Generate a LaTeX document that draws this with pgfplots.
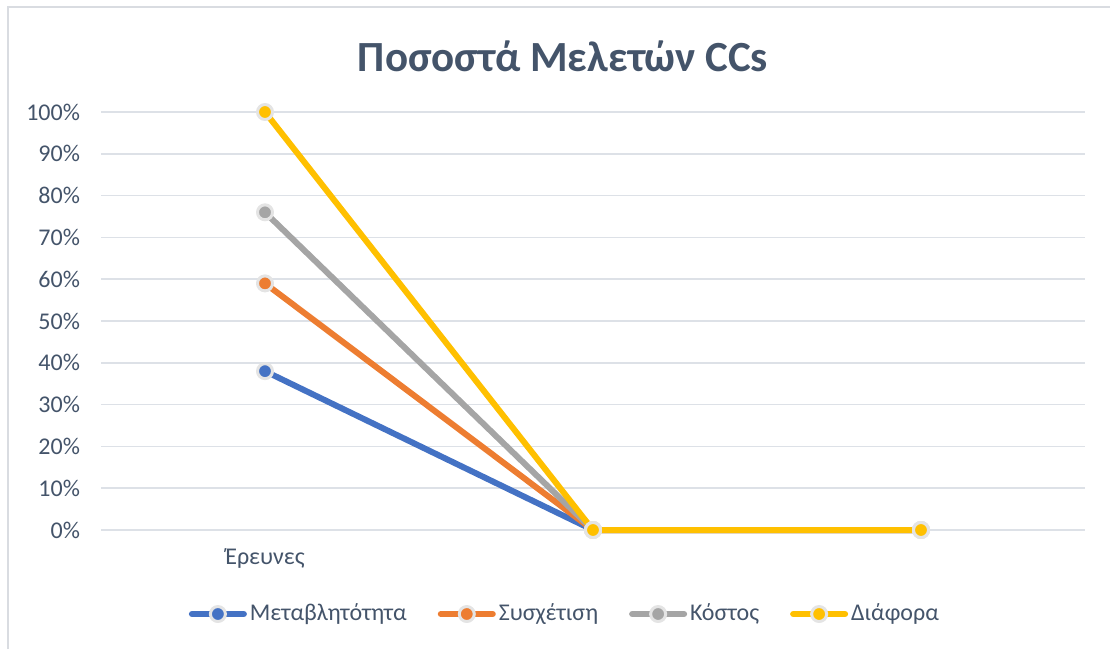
\documentclass[border=0pt]{standalone}
\usepackage{pgfplots}
\pgfplotsset{compat=1.18}
\usepackage{fontspec}
\setmainfont{Carlito}

\definecolor{txt}{HTML}{44546A}
\definecolor{gridc}{HTML}{DDE1E7}
\definecolor{frame}{HTML}{D9DCE1}
\definecolor{cblue}{HTML}{4472C4}
\definecolor{corange}{HTML}{ED7D31}
\definecolor{cgray}{HTML}{A5A5A5}
\definecolor{cyellow}{HTML}{FFC000}
\definecolor{mring}{HTML}{E4E4E4}

\pgfplotsset{
  ringmark/.style={mark=*, mark size=3.75pt,
    mark options={solid, fill=#1, draw=mring, line width=1.5pt}},
}

\begin{document}
\begin{tikzpicture}
\useasboundingbox (0,0) rectangle (555pt,324.5pt);
% chart frame
\draw[frame, line width=0.8pt] (4pt,0) -- (4pt,321pt) -- (555pt,321pt);

\begin{axis}[
  at={(50.5pt,59.5pt)}, anchor=south west,
  scale only axis, width=492pt, height=209pt,
  xmin=-0.5, xmax=2.5, ymin=0, ymax=100,
  xtick={0,1,2}, xticklabels={Έρευνες,,},
  ytick={0,10,...,100},
  yticklabels={0\%,10\%,20\%,30\%,40\%,50\%,60\%,70\%,80\%,90\%,100\%},
  axis line style={draw=none},
  major tick style={draw=none},
  ymajorgrids, major grid style={gridc, line width=0.75pt},
  tick label style={font=\fontsize{12pt}{14pt}\selectfont, text=txt},
  yticklabel style={xshift=-7pt},
  xticklabel style={yshift=-6pt},
  clip=false,
  every axis plot/.append style={line width=3pt, line cap=round, line join=round},
  legend columns=4,
  legend style={draw=none, fill=none, at={(0.472,-0.201)}, anchor=center,
    font=\fontsize{12pt}{14pt}\selectfont, text=txt,
    /tikz/every even column/.append style={column sep=14pt},
    nodes={inner xsep=1.5pt}},
  legend image code/.code={%
    \draw[#1, mark repeat=2, mark phase=2] plot coordinates {(0pt,0pt) (13pt,0pt) (26pt,0pt)};},
]
\addplot[color=cblue, ringmark=cblue] coordinates {(0,38) (1,0) (2,0)};
\addlegendentry{Μεταβλητότητα}
\addplot[color=corange, ringmark=corange] coordinates {(0,59) (1,0) (2,0)};
\addlegendentry{Συσχέτιση}
\addplot[color=cgray, ringmark=cgray] coordinates {(0,76) (1,0) (2,0)};
\addlegendentry{Κόστος}
\addplot[color=cyellow, ringmark=cyellow] coordinates {(0,100) (1,0) (2,0)};
\addlegendentry{Διάφορα}
\end{axis}

\node[text=txt, font=\fontsize{21.5pt}{25pt}\selectfont\bfseries] at (281.5pt,296.5pt) {Ποσοστά Μελετών CCs};
\end{tikzpicture}
\end{document}
